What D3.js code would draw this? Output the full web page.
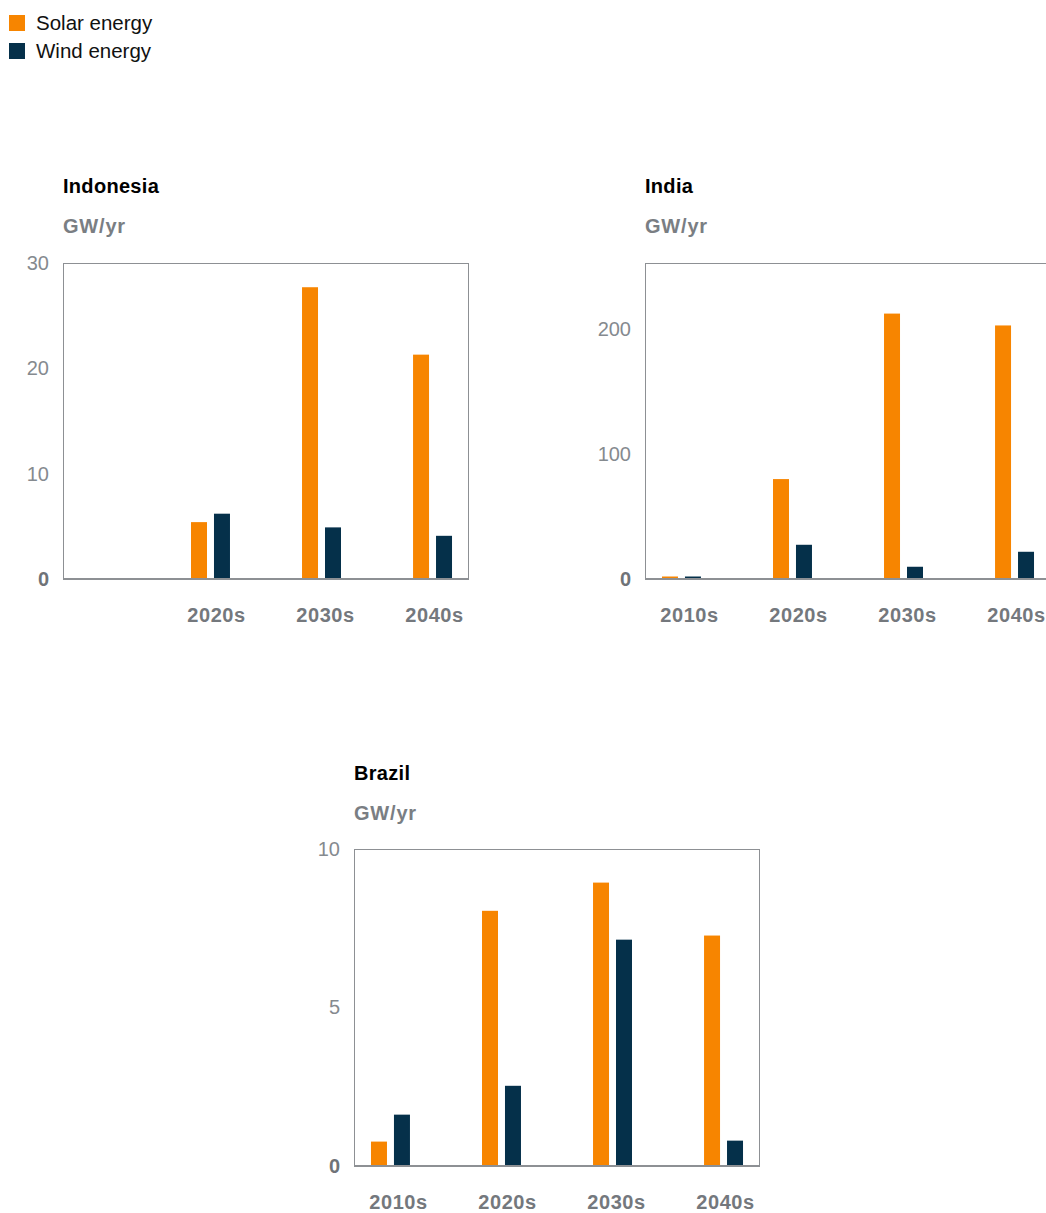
<!DOCTYPE html>
<html>
<head>
<meta charset="utf-8">
<script src="https://cdn.jsdelivr.net/npm/d3@7"></script>
<style>
  html, body { margin: 0; padding: 0; background: #fff; }
  svg { display: block; font-family: "Liberation Sans", Arial, sans-serif; }
</style>
</head>
<body>
<svg id="chart" width="1046" height="1213"></svg>
<script>
// ---- data ----
const categories = ["2010s", "2020s", "2030s", "2040s"];
const seriesNames = ["Solar energy", "Wind energy"];
const seriesColors = ["#f78500", "#05304a"];

const indonesiaSolar = [null, 5.4, 27.7, 21.3];
const indonesiaWind  = [null, 6.2, 4.9, 4.1];
const indonesiaTicks = [0, 10, 20, 30];
const indonesiaLabels = ["", "2020s", "2030s", "2040s"];

const indiaSolar = [2, 80, 212.5, 203];
const indiaWind  = [2, 27.4, 9.8, 21.8];
const indiaTicks = [0, 100, 200];
const indiaLabels = ["2010s", "2020s", "2030s", "2040s"];

const brazilSolar = [0.77, 8.05, 8.94, 7.27];
const brazilWind  = [1.62, 2.53, 7.14, 0.8];
const brazilTicks = [0, 5, 10];
const brazilLabels = ["2010s", "2020s", "2030s", "2040s"];

const unitLabel = "GW/yr";

// ---- layout ----
const panels = [
  { title: "Indonesia", solar: indonesiaSolar, wind: indonesiaWind, ticks: indonesiaTicks, labels: indonesiaLabels, max: 30,  left: 63,  top: 263, bottom: 579 },
  { title: "India",     solar: indiaSolar,     wind: indiaWind,     ticks: indiaTicks,     labels: indiaLabels,     max: 253, left: 645, top: 263, bottom: 579 },
  { title: "Brazil",    solar: brazilSolar,    wind: brazilWind,    ticks: brazilTicks,    labels: brazilLabels,    max: 10,  left: 354, top: 849, bottom: 1166 }
];
const plotW = 406;

const svg = d3.select("#chart");

// legend
const legend = svg.append("g");
seriesNames.forEach((name, i) => {
  const g = legend.append("g").attr("transform", `translate(9, ${15 + i * 28})`);
  g.append("rect").attr("width", 16).attr("height", 16).attr("fill", seriesColors[i]);
  g.append("text").attr("x", 27).attr("y", 15).attr("font-size", 20.5).attr("fill", "#111").text(name);
});

panels.forEach(p => {
  const g = svg.append("g").attr("transform", `translate(${p.left}, 0)`);
  const x = d3.scaleBand().domain(categories).range([0, plotW]).paddingInner(0.649).paddingOuter(0.153);
  const xs = d3.scaleBand().domain(seriesNames).range([0, x.bandwidth()]).paddingInner(0.304);
  const xl = d3.scalePoint().domain(categories).range([44, 371]);
  const y = d3.scaleLinear().domain([0, p.max]).range([p.bottom, p.top]);

  // title and unit
  g.append("text").attr("x", 0).attr("y", p.bottom - 386).attr("font-size", 20).attr("font-weight", "bold").attr("fill", "#000").attr("letter-spacing", "0.3px").text(p.title);
  g.append("text").attr("x", 0).attr("y", p.bottom - 346).attr("font-size", 20).attr("font-weight", "bold").attr("fill", "#7a7e83").attr("letter-spacing", "0.8px").text(unitLabel);

  // frame
  g.append("rect").attr("x", 0.5).attr("y", p.top + 0.5).attr("width", plotW - 1).attr("height", p.bottom - p.top)
    .attr("fill", "none").attr("stroke", "#8d9094").attr("stroke-width", 1);

  // bars
  const rows = categories.map((c, i) => ({ cat: c, vals: [p.solar[i], p.wind[i]] }));
  const grp = g.selectAll(".grp").data(rows).enter().append("g").attr("transform", d => `translate(${x(d.cat)},0)`);
  grp.selectAll("rect").data(d => d.vals.map((v, j) => ({ v, s: seriesNames[j], c: seriesColors[j] })).filter(e => e.v != null))
    .enter().append("rect")
    .attr("x", e => xs(e.s)).attr("width", xs.bandwidth())
    .attr("y", e => y(e.v)).attr("height", e => y(0) - y(e.v))
    .attr("fill", e => e.c);

  // baseline
  g.append("line").attr("x1", 0).attr("x2", plotW).attr("y1", p.bottom).attr("y2", p.bottom)
    .attr("stroke", "#8d9094").attr("stroke-width", 2);

  // y ticks
  const yAxis = d3.axisLeft(y).tickValues(p.ticks).tickSize(0).tickPadding(14);
  const ya = g.append("g").call(yAxis);
  ya.select(".domain").remove();
  ya.selectAll("text").attr("font-family", null).attr("font-size", 20)
    .attr("fill", d => d === 0 ? "#6f7378" : "#858a8f")
    .attr("font-weight", d => d === 0 ? "bold" : "normal");

  // x labels
  const xAxis = d3.axisBottom(xl).tickSize(0).tickPadding(0).tickFormat((d, i) => p.labels[i]);
  const xa = g.append("g").attr("transform", `translate(0, ${p.bottom + 43})`).call(xAxis);
  xa.select(".domain").remove();
  xa.selectAll("text").attr("font-family", null).attr("font-size", 20).attr("font-weight", "bold")
    .attr("fill", "#74787d").attr("letter-spacing", "0.6px").attr("dy", "0").attr("y", 0);
});
</script>
</body>
</html>
